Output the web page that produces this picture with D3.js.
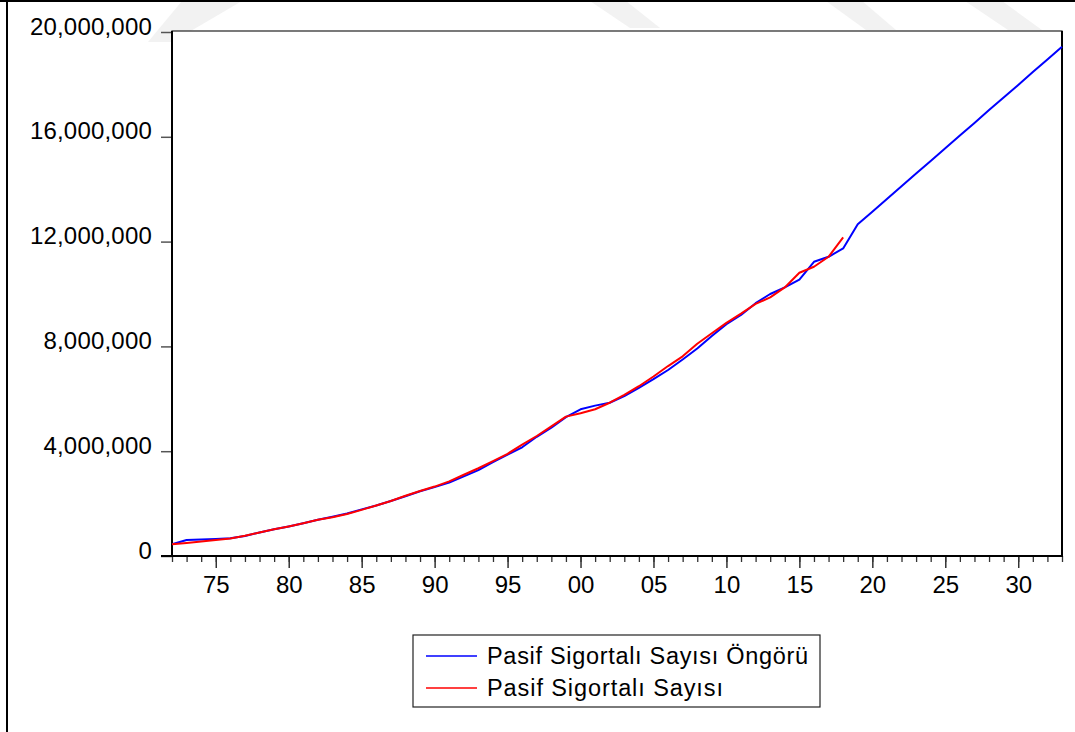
<!DOCTYPE html>
<html>
<head>
<meta charset="utf-8">
<script src="https://cdn.jsdelivr.net/npm/d3@7"></script>
<style>
  html, body { margin: 0; padding: 0; background: #fff; }
  svg { display: block; }
  text { font-family: "Liberation Sans", Arial, sans-serif; fill: #000; }
</style>
</head>
<body>
<svg id="chart" width="1075" height="732"></svg>
<script>
// ---- Data ----
const forecastYears = d3.range(1972, 2034);
const forecastValues = [
  450000, 610000, 630000, 650000, 680000, 760000, 900000, 1020000, 1130000, 1250000,
  1380000, 1500000, 1620000, 1780000, 1930000, 2100000, 2280000, 2470000, 2630000, 2800000,
  3040000, 3280000, 3580000, 3870000, 4150000, 4550000, 4900000, 5300000, 5600000, 5740000,
  5850000, 6100000, 6420000, 6750000, 7100000, 7500000, 7920000, 8400000, 8850000, 9200000,
  9650000, 10000000, 10250000, 10550000, 11230000, 11420000, 11740000, 12660000, 13140000, 13630000,
  14110000, 14600000, 15080000, 15560000, 16050000, 16530000, 17020000, 17500000, 17980000, 18470000,
  18950000, 19440000
];
const actualYears = d3.range(1972, 2019);
const actualValues = [
  450000, 500000, 550000, 610000, 670000, 770000, 900000, 1020000, 1130000, 1250000,
  1380000, 1480000, 1600000, 1760000, 1930000, 2100000, 2300000, 2480000, 2650000, 2850000,
  3100000, 3350000, 3620000, 3900000, 4250000, 4580000, 4950000, 5320000, 5450000, 5600000,
  5850000, 6150000, 6480000, 6850000, 7250000, 7620000, 8100000, 8500000, 8900000, 9250000,
  9620000, 9870000, 10250000, 10810000, 11040000, 11420000, 12160000
];
const yTickValues = [0, 4000000, 8000000, 12000000, 16000000, 20000000];
const xMajorTicks = [1975, 1980, 1985, 1990, 1995, 2000, 2005, 2010, 2015, 2020, 2025, 2030];
const xMinorTicks = d3.range(1972, 2034);
const seriesNames = ["Pasif Sigortalı Sayısı Öngörü", "Pasif Sigortalı Sayısı"];
const seriesColors = ["#0000ff", "#ff0000"];

// ---- Layout ----
const svg = d3.select("#chart");
const L = 172, R = 1062, T = 31, B = 556;

// faint watermark fragments
const wm = svg.append("g").attr("fill", "#f2f2f2");
wm.append("polygon").attr("points", "182,1 242,1 172,42 148,42");
wm.append("polygon").attr("points", "826,1 862,1 896,30 866,30");
wm.append("polygon").attr("points", "965,1 1002,1 1042,30 1008,30");
wm.append("polygon").attr("points", "590,1 626,1 660,28 630,28");

// outer frame
svg.append("line").attr("x1", 7).attr("x2", 7).attr("y1", 0).attr("y2", 732)
  .attr("stroke", "#000").attr("stroke-width", 2);
svg.append("line").attr("x1", 0).attr("x2", 1075).attr("y1", 1).attr("y2", 1)
  .attr("stroke", "#000").attr("stroke-width", 2);

const x = d3.scaleLinear().domain([1972, 2033]).range([L, R]);
const y = d3.scaleLinear().domain([0, 20000000]).range([B, T + 1]);

// plot area
svg.append("rect").attr("x", L).attr("y", T).attr("width", R - L).attr("height", B - T)
  .attr("fill", "#fff").attr("stroke", "#222").attr("stroke-width", 1.2);

// y axis
const yAxis = d3.axisLeft(y).tickValues(yTickValues).tickSize(11).tickPadding(0)
  .tickFormat(d3.format(","));
const gy = svg.append("g").attr("transform", `translate(${L},0)`).call(yAxis);
gy.select(".domain").remove();
gy.selectAll(".tick line").attr("stroke", "#555").attr("stroke-width", 1.5);
gy.selectAll(".tick text")
  .attr("x", -20).attr("dy", "2px")
  .style("font-size", "24px").style("letter-spacing", "0.2px")
  .attr("font-family", "Liberation Sans, Arial, sans-serif");

// x axis: minor ticks
const xMinor = d3.axisBottom(x).tickValues(xMinorTicks).tickSize(6).tickFormat("");
const gxm = svg.append("g").attr("transform", `translate(0,${B})`).call(xMinor);
gxm.select(".domain").remove();
gxm.selectAll(".tick line").attr("stroke", "#333").attr("stroke-width", 1.3);

// x axis: major ticks with labels
const xMajor = d3.axisBottom(x).tickValues(xMajorTicks).tickSize(12).tickPadding(0)
  .tickFormat(d => String(d % 100).padStart(2, "0"));
const gx = svg.append("g").attr("transform", `translate(0,${B})`).call(xMajor);
gx.select(".domain").remove();
gx.selectAll(".tick line").attr("stroke", "#333").attr("stroke-width", 1.5);
gx.selectAll(".tick text")
  .attr("y", 37).attr("dy", 0)
  .style("font-size", "24px")
  .attr("font-family", "Liberation Sans, Arial, sans-serif");

// thick left/bottom/right axis lines
svg.append("line").attr("x1", L).attr("x2", L).attr("y1", T).attr("y2", B + 1)
  .attr("stroke", "#000").attr("stroke-width", 2);
svg.append("line").attr("x1", L - 11).attr("x2", R + 1).attr("y1", B).attr("y2", B)
  .attr("stroke", "#000").attr("stroke-width", 2);
svg.append("line").attr("x1", R).attr("x2", R).attr("y1", T).attr("y2", B)
  .attr("stroke", "#000").attr("stroke-width", 2);

// series lines
const line = d3.line().x(d => x(d[0])).y(d => y(d[1]));
const forecast = forecastYears.map((yr, i) => [yr, forecastValues[i]]);
const actual = actualYears.map((yr, i) => [yr, actualValues[i]]);
svg.append("path").datum(forecast).attr("d", line)
  .attr("fill", "none").attr("stroke", seriesColors[0]).attr("stroke-width", 2)
  .attr("stroke-linejoin", "round");
svg.append("path").datum(actual).attr("d", line)
  .attr("fill", "none").attr("stroke", seriesColors[1]).attr("stroke-width", 2)
  .attr("stroke-linejoin", "round");

// legend
const lg = svg.append("g");
lg.append("rect").attr("x", 413).attr("y", 635).attr("width", 407).attr("height", 72)
  .attr("fill", "#fff").attr("stroke", "#222").attr("stroke-width", 1.2);
const legendWidths = [321, 236];
seriesNames.forEach((name, i) => {
  const cy = 656 + i * 32;
  lg.append("line").attr("x1", 426).attr("x2", 477).attr("y1", cy).attr("y2", cy)
    .attr("stroke", seriesColors[i]).attr("stroke-width", 1.6);
  lg.append("text").attr("x", 487).attr("y", cy + 4)
    .attr("dy", "4px")
    .attr("textLength", legendWidths[i]).attr("lengthAdjust", "spacing")
    .style("font-size", "23.5px")
    .text(name);
});
</script>
</body>
</html>
